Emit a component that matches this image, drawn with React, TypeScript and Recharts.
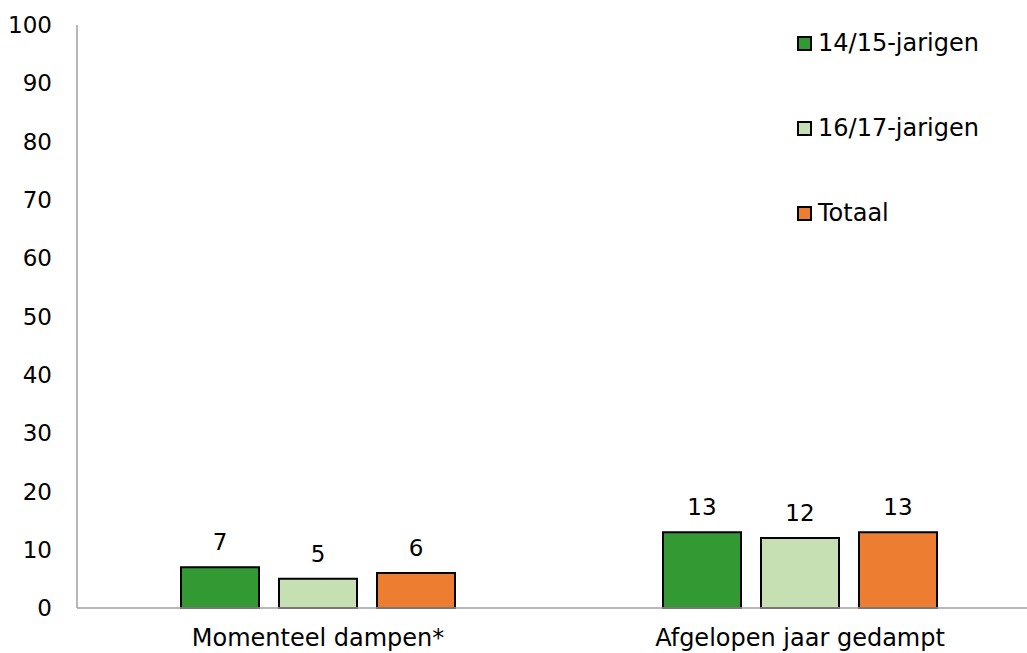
import React from 'react';
import { BarChart, Bar, XAxis, YAxis, Legend, LabelList } from 'recharts';

const categories = ['Momenteel dampen*', 'Afgelopen jaar gedampt'];
const jarigen1415 = [7, 13];
const jarigen1617 = [5, 12];
const totaal = [6, 13];
const yTicks = [0, 10, 20, 30, 40, 50, 60, 70, 80, 90, 100];

const seriesInfo = [
  { key: 'a', name: '14/15-jarigen', color: '#339933' },
  { key: 'b', name: '16/17-jarigen', color: '#c6e0b4' },
  { key: 'c', name: 'Totaal', color: '#ed7d31' },
];

const data = categories.map((cat, i) => ({
  cat,
  a: jarigen1415[i],
  b: jarigen1617[i],
  c: totaal[i],
}));

const FONT = '"DejaVu Sans", Verdana, sans-serif';

const renderLegend = () => (
  <div style={{ fontFamily: FONT, fontSize: 24, color: '#000', textAlign: 'left' }}>
    {seriesInfo.map((s, i) => (
      <div
        key={s.key}
        style={{ display: 'flex', alignItems: 'center', height: 30, marginBottom: i < 2 ? 55 : 0 }}
      >
        <span
          style={{
            display: 'inline-block',
            width: 11,
            height: 11,
            background: s.color,
            border: '2px solid #000',
            marginRight: 6,
          }}
        />
        <span>{s.name}</span>
      </div>
    ))}
  </div>
);

export default function App() {
  return (
    <div style={{ position: 'absolute', left: 0, top: 0, width: 1027, height: 653, overflow: 'hidden', background: '#fff' }}>
      <BarChart
        width={1041}
        height={653}
        data={data}
        margin={{ top: 25, right: 0, left: 0, bottom: 0 }}
        barSize={78}
        barGap={20}
      >
        <XAxis
          dataKey="cat"
          height={45}
          axisLine={{ stroke: '#a0a0a0', strokeWidth: 1.5 }}
          tickLine={false}
          tickMargin={15}
          tick={{ fill: '#000', fontSize: 24, fontFamily: FONT }}
        />
        <YAxis
          width={77}
          domain={[0, 100]}
          ticks={yTicks}
          interval={0}
          axisLine={{ stroke: '#a0a0a0', strokeWidth: 1.5 }}
          tickLine={false}
          tickMargin={19}
          tick={{ fill: '#000', fontSize: 23, fontFamily: FONT }}
        />
        <Legend
          layout="horizontal"
          verticalAlign="middle"
          align="center"
          content={renderLegend}
          wrapperStyle={{ position: 'absolute', left: 797, top: 28, width: 220, height: 200 }}
        />
        {seriesInfo.map((s) => (
          <Bar
            key={s.key}
            dataKey={s.key}
            name={s.name}
            fill={s.color}
            stroke="#000"
            strokeWidth={2}
            isAnimationActive={false}
          >
            <LabelList
              dataKey={s.key}
              position="top"
              offset={17}
              fill="#000"
              fontSize={23}
              fontFamily={FONT}
            />
          </Bar>
        ))}
      </BarChart>
    </div>
  );
}
